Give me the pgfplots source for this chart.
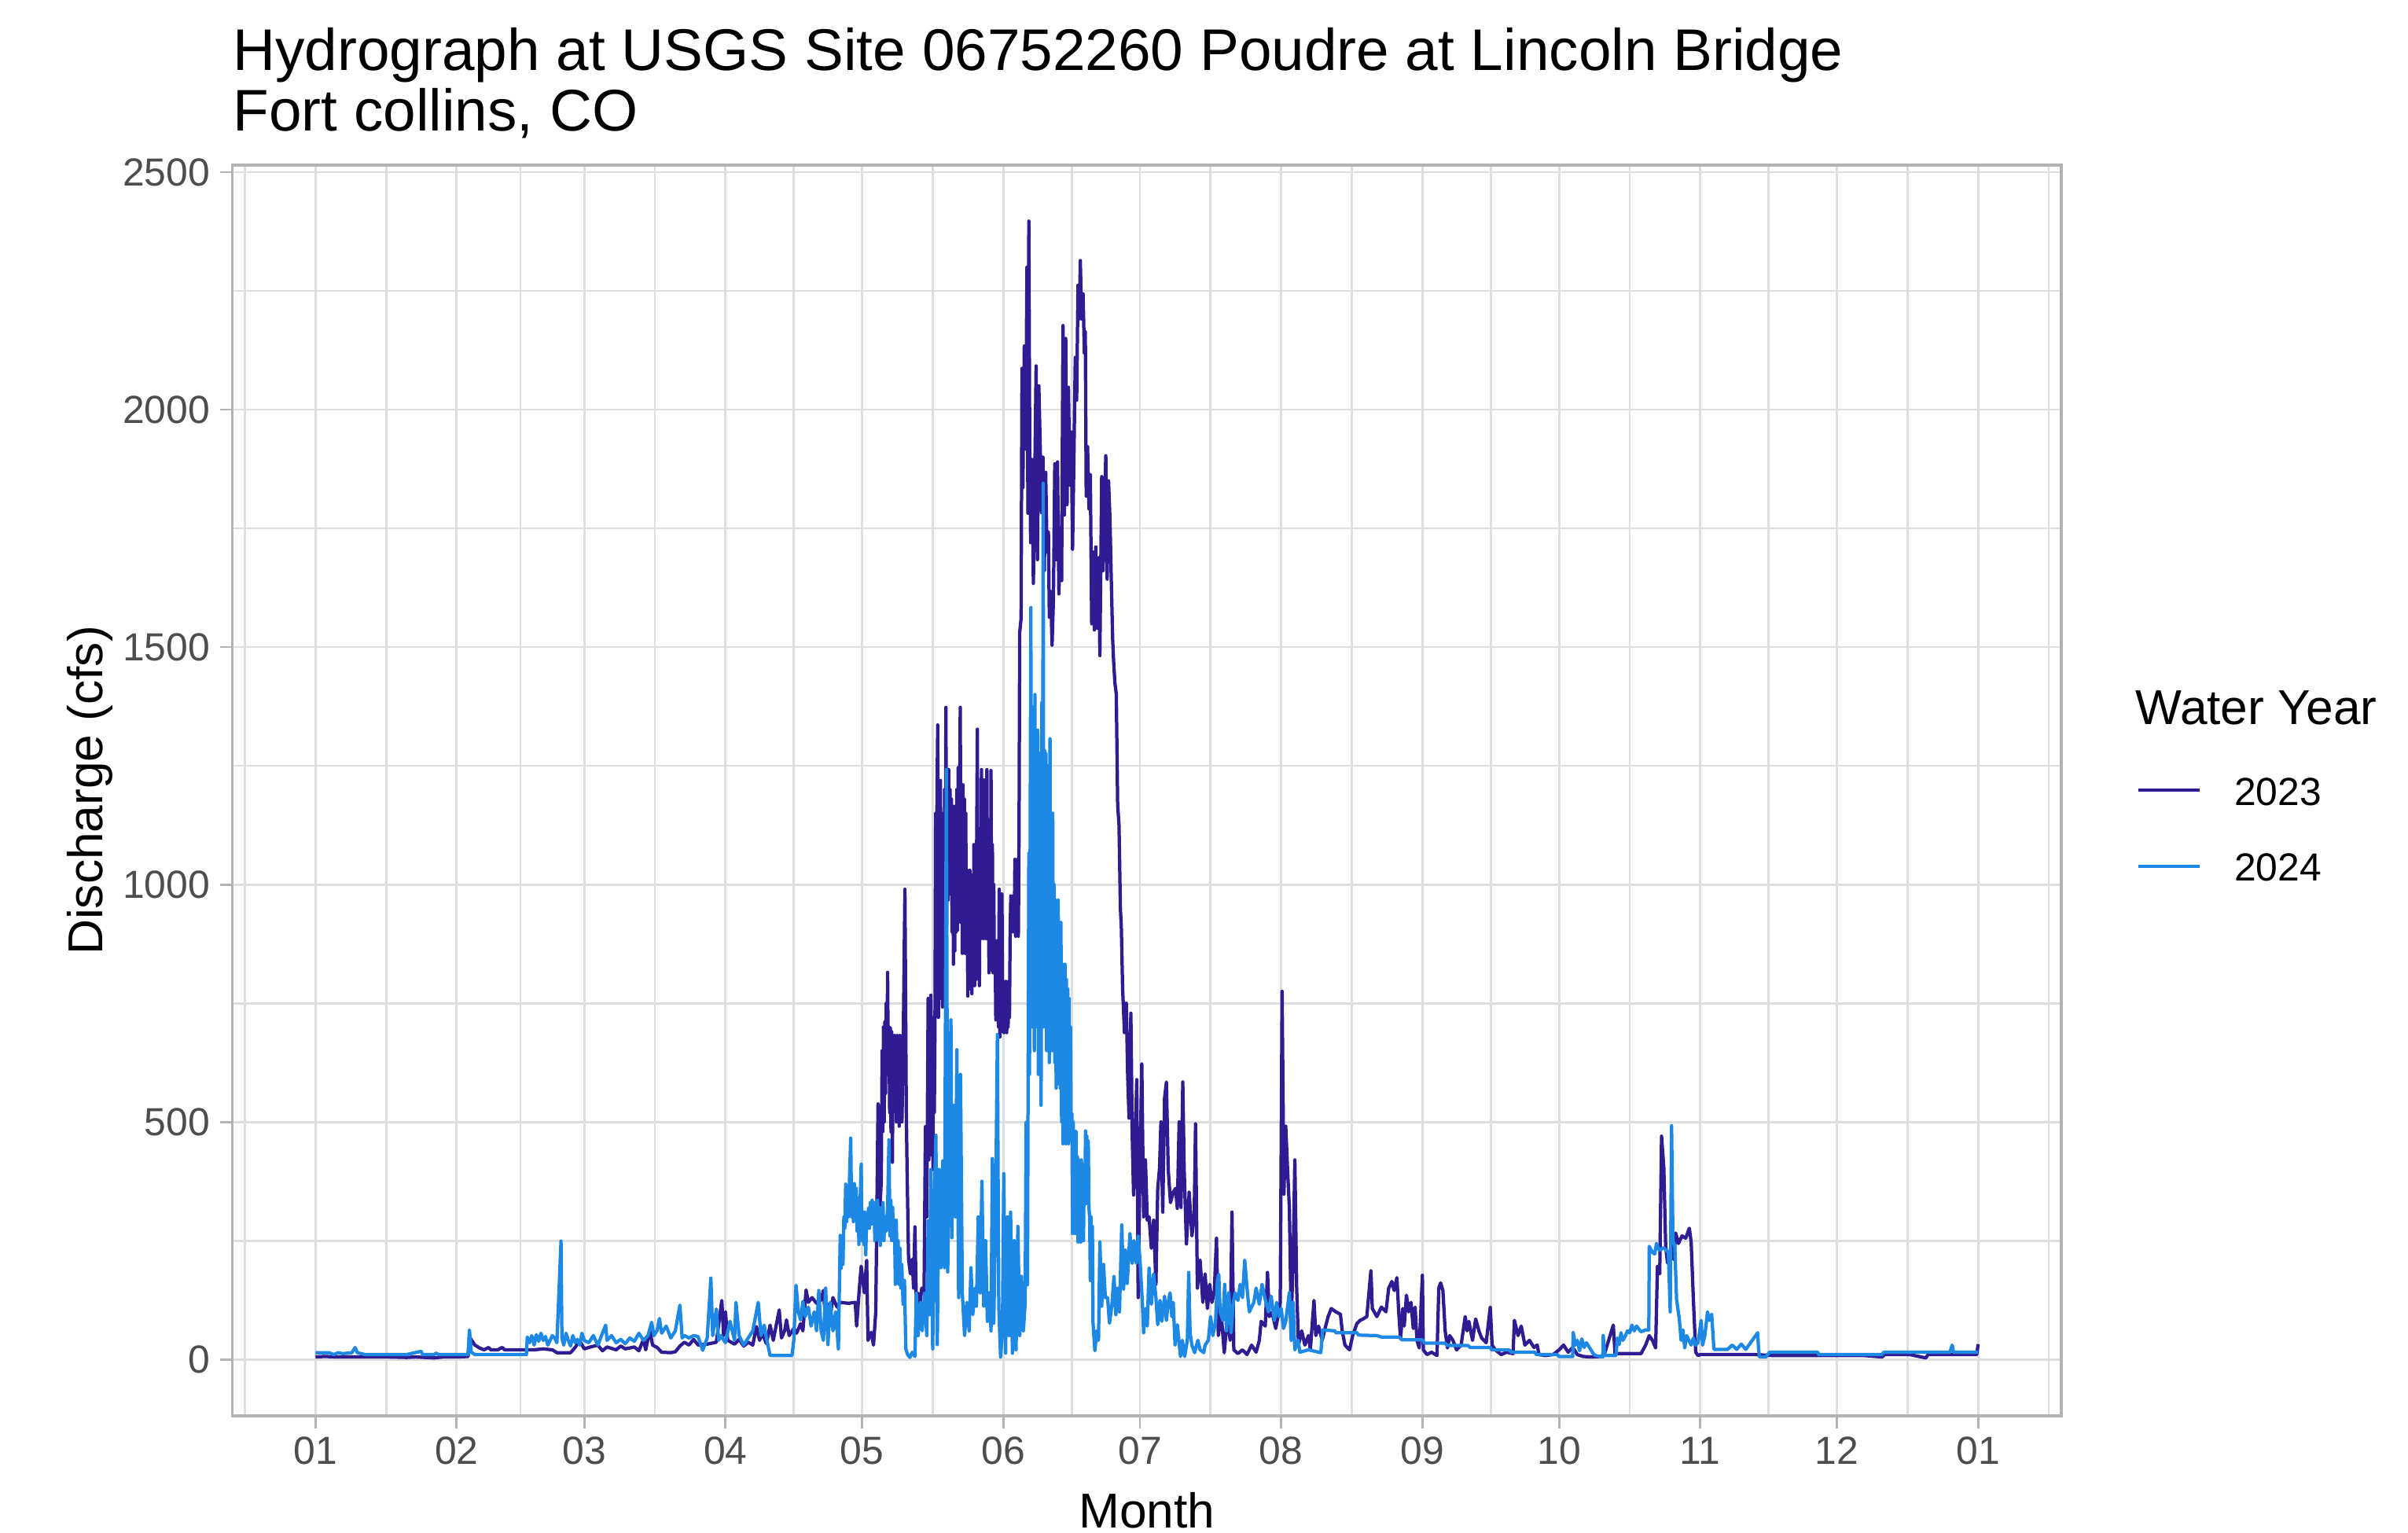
\documentclass[border=0pt]{standalone}
\usepackage{fontspec}
\setmainfont{Liberation Sans}
\usepackage{pgfplots}
\usepackage{pgfplotstable}
\pgfplotsset{compat=1.18}
\definecolor{c23}{HTML}{311B92}
\definecolor{c24}{HTML}{1E88E5}
\definecolor{gridc}{HTML}{DEDEDE}
\definecolor{borderc}{HTML}{B3B3B3}
\definecolor{tickc}{HTML}{4D4D4D}

% Water year 2023 (day of year, discharge cfs)
\pgfplotstableread[row sep=\\]{d q\\
0 5\\ 2 6\\ 5 5\\ 10 5\\ 16 5\\ 20 4\\ 22 5\\ 26 3\\ 28 5\\ 31 5\\ 33.5 6\\ 33.8 47\\ 34.3 40\\ 35 30\\ 36 24\\ 37 20\\ 38 25\\ 38.5 20\\ 40 20\\ 41 25\\ 41.5 20\\ 45 20\\ 48 20\\ 50 22\\ 52 20\\ 53 14\\ 56 14\\ 57 25\\ 58 39\\ 59 22\\ 60 25\\ 62 30\\ 63 18\\ 64 26\\ 66 20\\ 67 28\\ 68 22\\ 70 26\\ 71 18\\ 72 42\\ 72.5 20\\ 73.4 62\\ 74 30\\ 75 25\\ 76 15\\ 78 14\\ 79 16\\ 80 28\\ 81 36\\ 82 30\\ 83 42\\ 84 30\\ 86 32\\ 88 36\\ 89.2 124\\ 89.6 50\\ 90 100\\ 90.5 40\\ 92 32\\ 93 42\\ 94 28\\ 95 36\\ 96 30\\ 96.8 69\\ 97.5 40\\ 98 56\\ 99 33\\ 99.8 72\\ 100.5 40\\ 101.8 104\\ 102.3 45\\ 103 60\\ 103.4 83\\ 104 50\\ 105 65\\ 105.6 55\\ 106.5 75\\ 107 60\\ 107.7 146\\ 108.2 120\\ 109 130\\ 110 118\\ 111 125\\ 111.5 145\\ 112 80\\ 112.5 116\\ 113 90\\ 113.6 130\\ 114.5 110\\ 115.2 120\\ 117 118\\ 118.5 120\\ 118.8 70\\ 119.4 150\\ 119.8 196\\ 120.5 140\\ 121 208\\ 121.3 40\\ 122 57\\ 122.5 30\\ 123 100\\ 123.5 538\\ 123.8 300\\ 124.2 373\\
124.40 650\\ 124.55 480\\ 124.70 700\\ 124.85 500\\ 125.00 711\\ 125.15 560\\ 125.30 750\\ 125.45 600\\ 125.60 815\\ 125.75 600\\ 125.90 700\\ 126.05 520\\ 126.20 698\\ 126.35 479\\ 126.50 690\\ 126.65 415\\ 126.80 640\\ 126.95 521\\ 127.10 682\\ 127.25 540\\ 127.40 670\\ 127.55 500\\ 127.70 682\\ 127.85 521\\ 128.00 660\\ 128.15 491\\ 128.30 682\\ 128.45 530\\ 128.60 640\\ 128.75 500\\
129.0 640\\ 129.4 990\\ 129.7 526\\ 129.9 382\\ 130.2 211\\ 130.6 180\\ 131.0 211\\ 131.3 150\\ 131.6 279\\ 131.9 121\\ 132.3 139\\ 132.7 117\\ 133.1 150\\ 133.6 139\\ 133.9 490\\ 134.2 300\\
134.50 760\\ 134.65 420\\ 134.80 740\\ 134.95 500\\ 135.10 767\\ 135.25 430\\ 135.40 700\\ 135.55 400\\ 135.70 720\\ 135.85 520\\ 136.00 706\\ 136.15 1150\\ 136.30 760\\ 136.45 1192\\ 136.60 1336\\ 136.75 720\\ 136.90 1100\\ 137.05 800\\ 137.20 1219\\ 137.35 760\\ 137.50 1150\\ 137.65 742\\ 137.80 1100\\ 137.95 800\\ 138.10 1200\\ 138.25 850\\ 138.40 1373\\ 138.55 900\\ 138.70 1240\\ 138.85 967\\ 139.00 1242\\ 139.15 980\\ 139.30 1200\\ 139.45 1000\\ 139.60 1180\\ 139.75 900\\ 139.90 1165\\ 140.05 832\\ 140.20 1100\\ 140.35 860\\ 140.50 1165\\ 140.65 900\\ 140.80 1200\\ 140.95 904\\ 141.10 1246\\ 141.25 950\\ 141.40 1200\\ 141.55 1373\\ 141.70 920\\ 141.85 1150\\ 142.00 855\\ 142.15 1210\\ 142.30 880\\ 142.45 1180\\ 142.60 855\\ 142.75 1150\\ 142.90 870\\ 143.05 1030\\ 143.20 765\\ 143.35 1000\\ 143.50 780\\ 143.65 1030\\ 143.80 800\\ 143.95 980\\ 144.10 770\\ 144.25 1020\\ 144.40 800\\ 144.55 1084\\ 144.70 787\\ 144.85 1050\\ 145.00 800\\ 145.15 1084\\ 145.30 1327\\ 145.45 820\\ 145.60 1060\\ 145.75 787\\ 145.90 1084\\ 146.05 886\\ 146.20 1242\\ 146.35 900\\ 146.50 1200\\ 146.65 886\\ 146.80 1220\\ 146.95 900\\ 147.10 1180\\ 147.25 886\\ 147.40 1242\\ 147.55 900\\ 147.70 1084\\ 147.85 814\\ 148.00 1050\\ 148.15 830\\ 148.30 1240\\ 148.45 820\\ 148.60 1084\\ 148.75 814\\ 148.90 1000\\ 149.05 820\\ 149.20 882\\ 149.35 715\\ 149.50 870\\ 149.65 720\\ 149.80 882\\ 149.95 700\\ 150.10 990\\ 150.25 679\\ 150.40 950\\ 150.55 690\\ 150.70 980\\ 150.85 700\\ 151.00 796\\ 151.15 688\\ 151.30 790\\ 151.45 690\\ 151.60 796\\ 151.75 688\\ 151.90 780\\ 152.05 700\\ 152.20 796\\ 152.35 720\\ 152.50 900\\ 152.65 976\\ 152.80 900\\ 152.95 970\\ 153.10 910\\ 153.25 976\\ 153.40 900\\ 153.55 1053\\ 153.70 891\\ 153.85 1040\\ 154.00 900\\ 154.15 1053\\ 154.30 891\\ 154.45 1100\\ 154.60 1531\\
154.9 1560\\ 155.1 2087\\ 155.3 1836\\ 155.6 2134\\ 155.9 1917\\ 156.2 2300\\ 156.4 1782\\ 156.6 2397\\ 156.8 1917\\ 157.0 1720\\ 157.3 1895\\ 157.6 1634\\ 157.9 1850\\ 158.2 2092\\ 158.5 1684\\ 158.8 2050\\ 159.1 1922\\ 159.4 1783\\ 159.7 1900\\ 160.0 1661\\ 160.3 1868\\ 160.6 1700\\ 160.9 1742\\ 161.1 1563\\ 161.4 1617\\ 161.7 1504\\ 162.0 1600\\ 162.3 1886\\ 162.6 1684\\ 162.9 1890\\ 163.2 1612\\ 163.5 1751\\ 163.8 1640\\ 164.1 2177\\ 164.4 1778\\ 164.7 2150\\ 165.0 1800\\ 165.3 2047\\ 165.6 1841\\ 165.9 1953\\ 166.2 1706\\ 166.5 1900\\ 166.8 2110\\ 167.1 2020\\ 167.4 2262\\ 167.7 2191\\ 167.9 2314\\ 168.2 2191\\ 168.5 2244\\ 168.8 2119\\ 169.0 2164\\ 169.2 1818\\ 169.5 1922\\ 169.8 1791\\ 170.1 1863\\ 170.4 1549\\ 170.7 1700\\ 171.0 1536\\ 171.3 1711\\ 171.6 1540\\ 171.9 1688\\ 172.2 1482\\ 172.6 1859\\ 172.9 1661\\ 173.2 1800\\ 173.5 1903\\ 173.8 1643\\ 174.1 1850\\ 174.4 1774\\ 174.7 1643\\ 175.0 1518\\ 175.2 1473\\ 175.5 1424\\ 175.8 1401\\ 176.1 1168\\ 176.4 1125\\ 176.7 949\\ 176.9 913\\ 177.2 778\\ 177.6 688\\ 178.0 750\\ 178.3 598\\ 178.6 508\\ 179.0 729\\ 179.3 472\\ 179.6 346\\ 179.9 450\\ 180.3 589\\ 180.6 130\\ 181.0 400\\ 181.4 622\\ 181.8 300\\
182.2 420\\ 182.6 293\\ 183 300\\ 183.5 234\\ 184 293\\ 184.5 158\\ 184.9 360\\ 185.3 403\\ 185.6 500\\ 186 310\\ 186.4 550\\ 186.8 584\\ 187.2 400\\ 187.7 330\\ 188.3 352\\ 188.8 360\\ 189.2 318\\ 189.6 500\\ 190 320\\ 190.4 584\\ 190.7 400\\ 191.2 243\\ 191.8 352\\ 192.4 260\\ 192.9 300\\ 193.2 496\\ 193.6 150\\ 194.2 209\\ 194.8 120\\ 195.3 180\\ 195.8 107\\ 196.3 158\\ 196.8 120\\ 197.3 140\\ 197.8 255\\ 198.2 50\\ 198.8 100\\ 199.5 14\\ 200.2 90\\ 200.8 40\\ 201.2 310\\ 201.6 20\\ 202.5 12\\ 203.5 20\\ 204.5 10\\ 205.5 30\\ 206.5 15\\ 207.2 40\\ 207.6 80\\ 208.5 70\\ 209 183\\ 209.4 90\\ 210 99\\ 210.8 65\\ 211.3 90\\ 211.8 120\\ 212.2 775\\ 212.6 348\\ 213 491\\ 213.4 400\\ 213.8 318\\ 214.2 82\\ 214.6 200\\ 215 420\\ 215.4 150\\ 215.8 30\\ 216.5 60\\ 217.2 30\\ 218 50\\ 218.4 20\\ 219.2 124\\ 219.6 50\\ 220.2 70\\ 221 40\\ 221.5 60\\ 222.3 90\\ 223 107\\ 224 100\\ 225 95\\ 225.4 60\\ 226 30\\ 227 20\\ 227.7 50\\ 228.6 75\\ 229.3 82\\ 230 85\\ 230.8 90\\ 231.7 187\\ 232 107\\ 233 90\\ 234 110\\ 235 100\\ 235.6 150\\ 236.3 164\\ 236.8 145\\ 237.4 172\\ 237.8 100\\ 238.2 43\\ 238.7 107\\ 239 70\\ 239.5 135\\ 240 100\\ 240.5 120\\ 241 65\\ 241.4 110\\ 241.8 40\\ 242.3 24\\ 243 177\\ 243.2 20\\ 244 10\\ 245 15\\ 246.2 8\\ 246.6 150\\ 247 161\\ 247.5 145\\ 248 60\\ 248.5 24\\ 249 50\\ 249.7 40\\ 250.5 20\\ 251.5 30\\ 252.4 90\\ 252.8 60\\ 253.2 80\\ 254 40\\ 254.7 85\\ 255.4 60\\ 256 45\\ 257 35\\ 257.9 110\\ 258.3 30\\ 259 20\\ 260.3 10\\ 261.5 15\\ 262.9 12\\ 263.2 82\\ 264 50\\ 264.7 70\\ 265.5 30\\ 266.5 40\\ 267.5 25\\ 268.2 30\\ 268.6 10\\ 270 8\\ 271.7 10\\ 273 20\\ 274 30\\ 275 15\\ 276 25\\ 277 10\\ 278.3 6\\ 280 5\\ 282.3 6\\ 283 12\\ 284.9 72\\ 285.3 12\\ 288 12\\ 291 12\\ 292 30\\ 292.8 50\\ 293.5 40\\ 294.2 24\\ 294.6 196\\ 295.1 180\\ 295.5 470\\ 296 403\\ 296.4 240\\ 296.8 203\\ 297.2 220\\ 297.7 240\\ 298.2 210\\ 298.6 266\\ 299.2 244\\ 300 260\\ 300.8 255\\ 301.6 276\\ 302 247\\ 302.5 123\\ 303 15\\ 303.5 8\\ 304 10\\ 310 10\\ 316 10\\ 320 8\\ 330 8\\ 340 8\\ 343.9 5\\ 344.5 10\\ 350 10\\ 353.5 3\\ 354 10\\ 360 10\\ 364.7 10\\ 365 32\\
}\tabA

% Water year 2024
\pgfplotstableread[row sep=\\]{d q\\
0 14\\ 3 14\\ 4 10\\ 5 14\\ 6 12\\ 8 14\\ 8.7 25\\ 9.2 14\\ 10 12\\ 11 10\\ 15 10\\ 20 10\\ 23.2 17\\ 23.5 10\\ 26 10\\ 26.5 13\\ 27 10\\ 31 10\\ 33.5 10\\ 33.8 62\\ 34.2 15\\ 35 10\\ 40 10\\ 46.3 10\\ 46.5 47\\ 47 35\\ 47.5 50\\ 48 30\\ 48.5 52\\ 49 38\\ 49.5 55\\ 50 40\\ 50.5 48\\ 51 30\\ 52 50\\ 52.5 45\\ 53 35\\ 53.9 249\\ 54.1 45\\ 54.5 30\\ 55 55\\ 55.5 40\\ 56 28\\ 56.5 50\\ 57 35\\ 57.5 42\\ 58 30\\ 58.5 55\\ 59 40\\ 60 35\\ 61 50\\ 62 30\\ 63 55\\ 63.7 72\\ 64 40\\ 65 50\\ 66 35\\ 67 42\\ 68 33\\ 69 45\\ 70 38\\ 71 55\\ 72 40\\ 73 50\\ 73.8 78\\ 74.3 50\\ 75 61\\ 75.5 86\\ 76 55\\ 77 70\\ 78 45\\ 79 60\\ 80 114\\ 80.5 45\\ 81 50\\ 82 45\\ 83 50\\ 84 48\\ 85 19\\ 86 45\\ 86.8 171\\ 87.2 50\\ 88 106\\ 88.5 40\\ 89 50\\ 90 35\\ 91 80\\ 92 40\\ 92.3 120\\ 93 50\\ 94 30\\ 95 45\\ 96 60\\ 97.2 120\\ 97.8 50\\ 98.5 72\\ 99 45\\ 99.8 8\\ 102 8\\ 104.6 8\\ 105 40\\ 105.5 156\\ 106 100\\ 106.5 83\\ 107 122\\ 107.5 90\\ 108.2 110\\ 108.8 70\\ 109.5 100\\ 110 60\\ 110.5 145\\ 111 60\\ 111.5 40\\ 112 150\\ 112.5 31\\ 113 120\\ 113.6 60\\ 114.2 100\\ 114.8 22\\
115.20 261\\ 115.40 192\\ 115.60 259\\ 115.80 200\\ 116.00 300\\ 116.20 276\\ 116.40 369\\ 116.60 290\\ 116.80 360\\ 117.00 300\\ 117.20 369\\ 117.50 466\\ 117.70 300\\ 117.90 360\\ 118.10 290\\ 118.30 370\\ 118.50 300\\ 118.70 360\\ 118.90 270\\ 119.10 340\\ 119.30 242\\ 119.50 310\\ 119.80 411\\ 120.00 250\\ 120.20 310\\ 120.40 242\\ 120.60 310\\ 120.80 220\\ 121.00 300\\ 121.20 276\\ 121.40 318\\ 121.60 276\\ 121.80 330\\ 122.00 285\\ 122.20 335\\ 122.40 290\\ 122.60 330\\ 122.80 250\\ 123.00 320\\ 123.20 285\\ 123.40 335\\ 123.60 250\\ 123.80 320\\ 124.00 240\\ 124.20 300\\ 124.40 285\\ 124.60 330\\ 124.80 250\\ 125.00 300\\ 125.30 270\\ 125.60 320\\ 125.90 462\\ 126.10 260\\ 126.30 335\\ 126.50 250\\ 126.70 320\\ 126.90 250\\ 127.10 293\\ 127.30 158\\ 127.50 293\\ 127.70 200\\ 127.90 250\\ 128.10 158\\ 128.30 234\\ 128.50 150\\ 128.70 200\\ 129.0 116\\
129.3 166\\ 129.6 22\\ 130.0 10\\ 130.5 4\\ 131.0 15\\ 131.6 6\\ 131.9 139\\ 132.3 50\\ 132.8 120\\ 133.2 60\\ 133.7 139\\ 134.2 50\\ 134.5 292\\ 134.8 94\\ 135.1 400\\ 135.5 22\\ 135.9 350\\ 136.2 472\\ 136.5 31\\ 136.9 400\\ 137.3 193\\ 137.7 418\\ 138.1 193\\ 138.5 1242\\ 138.8 184\\ 139.1 463\\ 139.5 715\\ 139.7 256\\ 140.1 535\\ 140.5 300\\ 140.8 652\\ 141.2 130\\ 141.6 600\\ 142.0 139\\ 142.5 50\\ 143.0 120\\ 143.5 60\\ 143.9 193\\ 144.3 94\\ 144.8 150\\ 145.1 112\\ 145.5 300\\ 145.9 140\\ 146.3 375\\ 146.7 112\\ 147.1 250\\ 147.5 80\\ 147.9 140\\ 148.3 60\\ 148.6 423\\ 148.9 76\\ 149.3 300\\ 149.7 684\\ 150.0 112\\ 150.4 5\\ 150.8 60\\ 151.1 391\\ 151.5 13\\ 151.9 300\\ 152.3 50\\ 152.6 310\\ 153.0 13\\ 153.4 250\\ 153.8 20\\ 154.2 280\\ 154.6 50\\ 155.0 175\\ 155.4 60\\ 155.8 120\\ 156.0 499\\ 156.3 157\\
156.60 1066\\ 156.75 600\\ 156.90 1100\\ 157.05 1583\\ 157.20 700\\ 157.35 1374\\ 157.50 800\\ 157.65 1125\\ 157.80 650\\ 157.95 1400\\ 158.10 700\\ 158.25 1200\\ 158.40 800\\ 158.55 1325\\ 158.70 600\\ 158.85 1276\\ 159.00 700\\ 159.15 1000\\ 159.30 535\\ 159.45 1383\\ 159.60 800\\ 159.75 1845\\ 159.90 700\\ 160.05 1282\\ 160.20 750\\ 160.35 1276\\ 160.50 650\\ 160.65 1200\\ 160.80 700\\ 160.95 1250\\ 161.10 625\\ 161.25 1307\\ 161.40 700\\ 161.55 1100\\ 161.70 650\\ 161.85 1150\\ 162.00 700\\ 162.15 1000\\ 162.30 625\\ 162.45 967\\ 162.60 571\\ 162.75 950\\ 162.90 600\\ 163.05 967\\ 163.20 580\\ 163.35 900\\ 163.50 571\\ 163.65 920\\ 163.80 500\\ 163.95 832\\ 164.10 454\\ 164.25 800\\ 164.40 480\\ 164.55 832\\ 164.70 454\\ 164.85 800\\ 165.00 470\\ 165.15 780\\ 165.30 454\\ 165.45 760\\ 165.60 460\\ 165.75 700\\ 165.90 470\\ 166.05 517\\ 166.20 265\\ 166.35 500\\ 166.50 280\\ 166.65 450\\ 166.80 265\\ 166.95 480\\ 167.10 290\\ 167.25 427\\ 167.40 247\\ 167.55 420\\ 167.70 260\\ 167.85 400\\ 168.00 247\\ 168.15 420\\ 168.30 260\\ 168.45 410\\ 168.60 250\\ 168.75 400\\ 168.90 330\\ 169.05 481\\ 169.20 328\\ 169.35 470\\ 169.50 340\\ 169.65 460\\ 169.80 319\\ 169.95 300\\ 170.10 166\\ 170.25 300\\ 170.40 180\\ 170.55 280\\ 170.70 76\\
171.1 18\\ 171.5 60\\ 171.9 40\\ 172.2 247\\ 172.6 112\\ 173.0 200\\ 173.4 130\\ 173.9 130\\ 174.3 76\\ 174.8 110\\ 175.3 175\\ 175.7 94\\ 176.1 150\\ 176.5 100\\ 177.0 283\\ 177.4 148\\ 177.8 230\\ 178.2 160\\ 178.8 265\\ 179.3 202\\ 179.7 250\\ 180.2 202\\ 180.6 260\\ 181.0 210\\
181.5 124\\ 181.8 56\\ 182.2 107\\ 182.6 70\\ 183 192\\ 183.5 116\\ 184 180\\ 184.5 130\\ 184.9 73\\ 185.4 124\\ 185.8 80\\ 186.4 133\\ 186.8 82\\ 187.2 120\\ 187.6 140\\ 188 90\\ 188.3 120\\ 188.7 30\\ 189.2 73\\ 189.9 6\\ 190.3 40\\ 190.8 6\\ 191.4 40\\ 191.7 183\\ 192 56\\ 192.4 30\\ 193 14\\ 193.7 40\\ 194.2 20\\ 195 14\\ 195.3 30\\ 196 40\\ 196.5 90\\ 197 50\\ 197.6 80\\ 198 166\\ 198.3 179\\ 198.6 100\\ 199.2 82\\ 199.6 158\\ 200 60\\ 200.5 140\\ 201 56\\ 201.5 120\\ 201.9 140\\ 202.5 124\\ 203 158\\ 203.5 130\\ 204 209\\ 204.5 150\\ 205 100\\ 205.5 110\\ 206 120\\ 206.5 150\\ 207.2 116\\ 207.8 158\\ 208.4 130\\ 209.2 100\\ 209.8 133\\ 210.5 82\\ 211 120\\ 211.5 90\\ 212 107\\ 212.5 65\\ 213 80\\ 213.8 141\\ 214.2 40\\ 214.6 120\\ 215 20\\ 215.7 40\\ 216.1 15\\ 218 20\\ 220.7 14\\ 221.1 62\\ 223.8 60\\ 224 56\\ 228.6 56\\ 229 51\\ 233 50\\ 234 47\\ 238 47\\ 238.5 41\\ 243 41\\ 243.5 34\\ 248 34\\ 248.5 29\\ 253 29\\ 253.5 25\\ 257.9 25\\ 258.2 20\\ 262 20\\ 262.5 15\\ 267.7 15\\ 268 10\\ 272.6 10\\ 273 6\\ 276 6\\ 276.1 57\\ 276.6 30\\ 277 40\\ 277.5 18\\ 278 43\\ 278.5 25\\ 279 35\\ 280 20\\ 280.5 12\\ 281 8\\ 282.6 5\\ 282.7 50\\ 283 8\\ 285.5 8\\ 285.8 45\\ 286.2 31\\ 286.6 56\\ 287 40\\ 287.6 50\\ 288 60\\ 288.5 56\\ 289 72\\ 289.5 60\\ 290 70\\ 291 58\\ 292 62\\ 292.7 62\\ 292.8 238\\ 293.5 225\\ 294 222\\ 294.4 244\\ 295 230\\ 296 235\\ 297 225\\ 297.4 100\\ 297.7 492\\ 298 250\\ 298.4 241\\ 298.8 126\\ 299.4 85\\ 299.8 40\\ 300.2 62\\ 300.6 24\\ 301 50\\ 301.5 40\\ 302 30\\ 302.5 45\\ 303 30\\ 303.5 35\\ 304.2 82\\ 304.5 30\\ 305 50\\ 305.6 100\\ 306 82\\ 306.5 95\\ 307 21\\ 310 21\\ 311 30\\ 312 21\\ 313 32\\ 314 21\\ 316.6 56\\ 316.8 21\\ 317 5\\ 318.4 5\\ 319.2 15\\ 329.8 15\\ 330 10\\ 343.9 10\\ 344.3 15\\ 349 15\\ 358.8 15\\ 359.3 30\\ 359.6 15\\ 365 15\\
}\tabB

\begin{document}
\begin{tikzpicture}
\useasboundingbox (-52.2pt,-26.2pt) rectangle (488.8pt,318.1pt);
\begin{axis}[
  at={(0pt,0pt)}, anchor=south west,
  scale only axis, width=410.9pt, height=281pt,
  xmin=-18.25, xmax=383.25, ymin=-119, ymax=2515,
  xtick={0,31,59,90,120,151,181,212,243,273,304,334,365},
  xticklabels={01,02,03,04,05,06,07,08,09,10,11,12,01},
  minor xtick={-15.5,15.5,45,74.5,105,135.5,166,196.5,227.5,258,288.5,319,349.5,380.5},
  ytick={0,500,1000,1500,2000,2500},
  yticklabels={0,500,1000,1500,2000,2500},
  minor ytick={250,750,1250,1750,2250},
  grid=both,
  major grid style={draw=gridc, line width=0.5pt},
  minor grid style={draw=gridc, line width=0.5pt},
  axis line style={draw=borderc, line width=0.55pt},
  tick style={draw=borderc, line width=0.5pt},
  tick align=outside,
  major tick length=2.83pt,
  minor tick length=0pt,
  tick pos=left,
  ticklabel style={font=\fontsize{8.8}{10}\selectfont, text=tickc},
  yticklabel style={anchor=east, inner sep=0pt, xshift=-2pt},
  xticklabel style={anchor=north, inner sep=0pt, yshift=-1.5pt, text height=6.3pt},
  legend cell align=left,
  legend image code/.code={\draw[#1] (0pt,3.4pt) -- (13.8pt,3.4pt);},
  legend style={at={(1.0408,0.5114)}, anchor=north west, draw=none, fill=none,
    inner sep=0pt, row sep=10.8pt, column sep=7.4pt,
    nodes={inner sep=0pt, text height=6.3pt, text depth=0pt, anchor=base west,
      font=\fontsize{8.8}{10}\selectfont}},
]
\addplot[c23, line width=0.75pt, line join=round] table[x=d, y=q] {\tabA};
\addlegendentry{2023}
\addplot[c24, line width=0.75pt, line join=round] table[x=d, y=q] {\tabB};
\addlegendentry{2024}
\end{axis}
\node[anchor=base west, inner sep=0pt, font=\fontsize{13.2}{15}\selectfont] at (0pt,302.3pt) {Hydrograph at USGS Site 06752260 Poudre at Lincoln Bridge};
\node[anchor=base west, inner sep=0pt, font=\fontsize{13.2}{15}\selectfont] at (0pt,288.7pt) {Fort collins, CO};
\node[rotate=90, anchor=base, inner sep=0pt, font=\fontsize{11}{13}\selectfont] at (-29.2pt,140.5pt) {Discharge (cfs)};
\node[anchor=base, inner sep=0pt, font=\fontsize{11}{13}\selectfont] at (205.45pt,-25.1pt) {Month};
\node[anchor=base west, inner sep=0pt, font=\fontsize{11}{13}\selectfont] at (427.4pt,155.4pt) {Water Year};
\end{tikzpicture}
\end{document}
